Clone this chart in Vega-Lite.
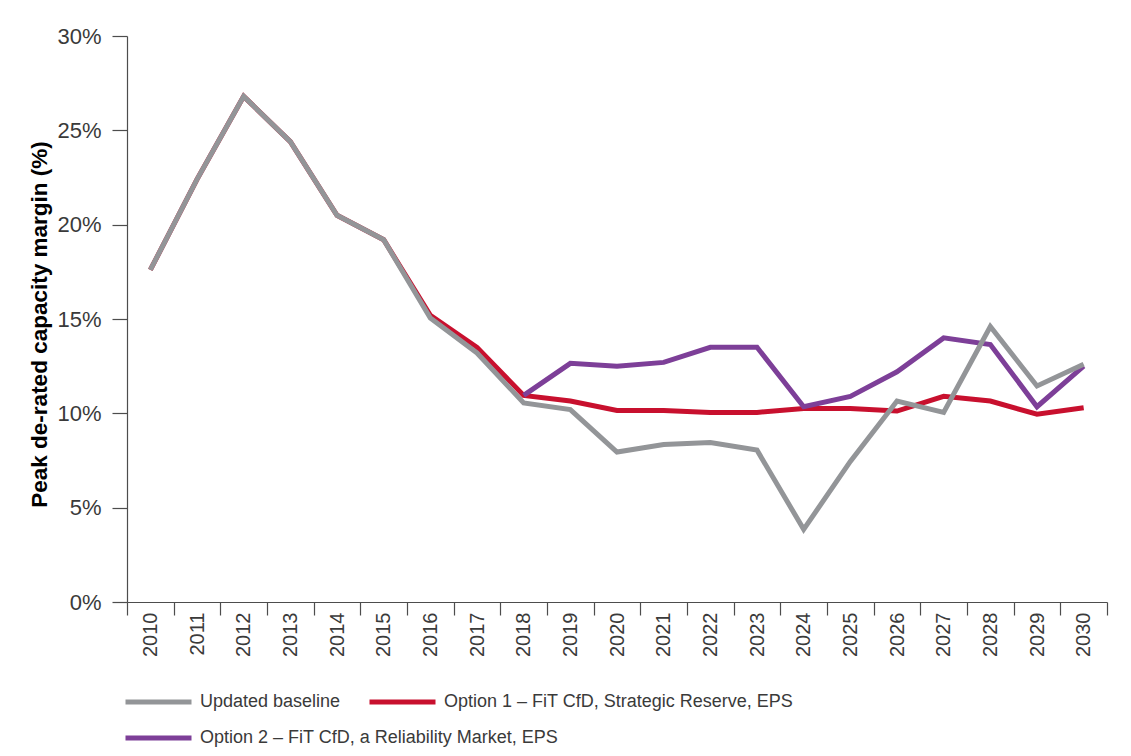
{
  "$schema": "https://vega.github.io/schema/vega-lite/v6.json",
  "width": 980,
  "height": 566,
  "autosize": {"type": "none"},
  "padding": {"left": 127, "top": 36, "right": 24, "bottom": 154},
  "background": "white",
  "config": {
    "view": {"stroke": null},
    "font": "Liberation Sans",
    "axis": {"domainColor": "#4d4d4d", "tickColor": "#4d4d4d", "labelColor": "#3a3a3a", "grid": false},
    "legend": {
      "title": null, "direction": "horizontal", "orient": "none",
      "symbolType": "M-1,0H11", "symbolSize": 121, "symbolStrokeWidth": 5,
      "labelOffset": 60, "labelFontSize": 18, "labelColor": "#3a3a3a", "labelLimit": 600,
      "columnPadding": 18
    }
  },
  "data": {
    "values": [
      {"year": 2010, "series": "Updated baseline", "value": 17.6},
      {"year": 2011, "series": "Updated baseline", "value": 22.4},
      {"year": 2012, "series": "Updated baseline", "value": 26.8},
      {"year": 2013, "series": "Updated baseline", "value": 24.4},
      {"year": 2014, "series": "Updated baseline", "value": 20.5},
      {"year": 2015, "series": "Updated baseline", "value": 19.2},
      {"year": 2016, "series": "Updated baseline", "value": 15.05},
      {"year": 2017, "series": "Updated baseline", "value": 13.2},
      {"year": 2018, "series": "Updated baseline", "value": 10.55},
      {"year": 2019, "series": "Updated baseline", "value": 10.2},
      {"year": 2020, "series": "Updated baseline", "value": 7.95},
      {"year": 2021, "series": "Updated baseline", "value": 8.35},
      {"year": 2022, "series": "Updated baseline", "value": 8.45},
      {"year": 2023, "series": "Updated baseline", "value": 8.05},
      {"year": 2024, "series": "Updated baseline", "value": 3.85},
      {"year": 2025, "series": "Updated baseline", "value": 7.45},
      {"year": 2026, "series": "Updated baseline", "value": 10.65},
      {"year": 2027, "series": "Updated baseline", "value": 10.05},
      {"year": 2028, "series": "Updated baseline", "value": 14.6},
      {"year": 2029, "series": "Updated baseline", "value": 11.45},
      {"year": 2030, "series": "Updated baseline", "value": 12.6},
      {"year": 2010, "series": "Option 1 – FiT CfD, Strategic Reserve, EPS", "value": 17.6},
      {"year": 2011, "series": "Option 1 – FiT CfD, Strategic Reserve, EPS", "value": 22.4},
      {"year": 2012, "series": "Option 1 – FiT CfD, Strategic Reserve, EPS", "value": 26.8},
      {"year": 2013, "series": "Option 1 – FiT CfD, Strategic Reserve, EPS", "value": 24.4},
      {"year": 2014, "series": "Option 1 – FiT CfD, Strategic Reserve, EPS", "value": 20.5},
      {"year": 2015, "series": "Option 1 – FiT CfD, Strategic Reserve, EPS", "value": 19.2},
      {"year": 2016, "series": "Option 1 – FiT CfD, Strategic Reserve, EPS", "value": 15.2},
      {"year": 2017, "series": "Option 1 – FiT CfD, Strategic Reserve, EPS", "value": 13.5},
      {"year": 2018, "series": "Option 1 – FiT CfD, Strategic Reserve, EPS", "value": 10.95},
      {"year": 2019, "series": "Option 1 – FiT CfD, Strategic Reserve, EPS", "value": 10.65},
      {"year": 2020, "series": "Option 1 – FiT CfD, Strategic Reserve, EPS", "value": 10.15},
      {"year": 2021, "series": "Option 1 – FiT CfD, Strategic Reserve, EPS", "value": 10.15},
      {"year": 2022, "series": "Option 1 – FiT CfD, Strategic Reserve, EPS", "value": 10.05},
      {"year": 2023, "series": "Option 1 – FiT CfD, Strategic Reserve, EPS", "value": 10.05},
      {"year": 2024, "series": "Option 1 – FiT CfD, Strategic Reserve, EPS", "value": 10.25},
      {"year": 2025, "series": "Option 1 – FiT CfD, Strategic Reserve, EPS", "value": 10.25},
      {"year": 2026, "series": "Option 1 – FiT CfD, Strategic Reserve, EPS", "value": 10.12},
      {"year": 2027, "series": "Option 1 – FiT CfD, Strategic Reserve, EPS", "value": 10.9},
      {"year": 2028, "series": "Option 1 – FiT CfD, Strategic Reserve, EPS", "value": 10.65},
      {"year": 2029, "series": "Option 1 – FiT CfD, Strategic Reserve, EPS", "value": 9.95},
      {"year": 2030, "series": "Option 1 – FiT CfD, Strategic Reserve, EPS", "value": 10.3},
      {"year": 2018, "series": "Option 2 – FiT CfD, a Reliability Market, EPS", "value": 10.95},
      {"year": 2019, "series": "Option 2 – FiT CfD, a Reliability Market, EPS", "value": 12.65},
      {"year": 2020, "series": "Option 2 – FiT CfD, a Reliability Market, EPS", "value": 12.5},
      {"year": 2021, "series": "Option 2 – FiT CfD, a Reliability Market, EPS", "value": 12.7},
      {"year": 2022, "series": "Option 2 – FiT CfD, a Reliability Market, EPS", "value": 13.5},
      {"year": 2023, "series": "Option 2 – FiT CfD, a Reliability Market, EPS", "value": 13.5},
      {"year": 2024, "series": "Option 2 – FiT CfD, a Reliability Market, EPS", "value": 10.35},
      {"year": 2025, "series": "Option 2 – FiT CfD, a Reliability Market, EPS", "value": 10.9},
      {"year": 2026, "series": "Option 2 – FiT CfD, a Reliability Market, EPS", "value": 12.2},
      {"year": 2027, "series": "Option 2 – FiT CfD, a Reliability Market, EPS", "value": 14.0},
      {"year": 2028, "series": "Option 2 – FiT CfD, a Reliability Market, EPS", "value": 13.65},
      {"year": 2029, "series": "Option 2 – FiT CfD, a Reliability Market, EPS", "value": 10.35},
      {"year": 2030, "series": "Option 2 – FiT CfD, a Reliability Market, EPS", "value": 12.5}
    ]
  },
  "encoding": {
    "x": {"field": "year", "type": "quantitative", "scale": {"domain": [2009.5, 2030.5], "nice": false, "zero": false}, "axis": null},
    "y": {"field": "value", "type": "quantitative", "scale": {"domain": [0, 30], "nice": false}}
  },
  "layer": [
    {
      "transform": [{"filter": "datum.series === 'Option 1 – FiT CfD, Strategic Reserve, EPS'"}],
      "mark": {"type": "line", "strokeWidth": 5},
      "encoding": {
        "x": {
          "field": "year", "type": "quantitative",
          "axis": {
            "values": [2009.5, 2010.5, 2011.5, 2012.5, 2013.5, 2014.5, 2015.5, 2016.5, 2017.5, 2018.5, 2019.5, 2020.5, 2021.5, 2022.5, 2023.5, 2024.5, 2025.5, 2026.5, 2027.5, 2028.5, 2029.5, 2030.5],
            "labels": false, "title": null, "tickSize": 13, "domainWidth": 1.2, "tickWidth": 1.2, "orient": "bottom"
          }
        },
        "y": {
          "field": "value", "type": "quantitative",
          "axis": {
            "values": [0, 5, 10, 15, 20, 25, 30],
            "labelExpr": "datum.value + '%'",
            "labelFontSize": 22, "labelPadding": 11, "tickSize": 15, "domainWidth": 1.2, "tickWidth": 1.2,
            "title": "Peak de-rated capacity margin (%)",
            "titleFontSize": 22.5, "titleFontWeight": "bold", "titleColor": "#000000",
            "titleX": -81, "titleY": 288, "titleBaseline": "alphabetic", "titleAngle": -90, "titleAlign": "center"
          }
        },
        "color": {
          "field": "series", "type": "nominal",
          "scale": {
            "domain": ["Updated baseline", "Option 1 – FiT CfD, Strategic Reserve, EPS"],
            "range": ["#939598", "#c8102e"]
          },
          "legend": {"legendX": -5, "legendY": 657}
        }
      }
    },
    {
      "transform": [{"filter": "datum.series === 'Option 2 – FiT CfD, a Reliability Market, EPS'"}],
      "mark": {"type": "line", "strokeWidth": 5},
      "encoding": {
        "stroke": {
          "field": "series", "type": "nominal",
          "scale": {"domain": ["Option 2 – FiT CfD, a Reliability Market, EPS"], "range": ["#7d3f98"]},
          "legend": {"legendX": -5, "legendY": 693}
        }
      }
    },
    {
      "transform": [{"filter": "datum.series === 'Updated baseline'"}],
      "mark": {"type": "line", "strokeWidth": 5},
      "encoding": {
        "color": {"field": "series", "type": "nominal"}
      }
    },
    {
      "mark": {"type": "line", "opacity": 0},
      "encoding": {
        "x": {
          "field": "year", "type": "quantitative",
          "axis": {
            "values": [2010, 2011, 2012, 2013, 2014, 2015, 2016, 2017, 2018, 2019, 2020, 2021, 2022, 2023, 2024, 2025, 2026, 2027, 2028, 2029, 2030],
            "format": "d", "labelAngle": -90, "labelAlign": "right", "labelBaseline": "middle", "orient": "bottom",
            "labelFontSize": 20, "labelPadding": 10, "ticks": false, "domain": false, "title": null
          }
        },
        "detail": {"field": "series", "type": "nominal"}
      }
    }
  ],
  "resolve": {"axis": {"x": "independent"}}
}
